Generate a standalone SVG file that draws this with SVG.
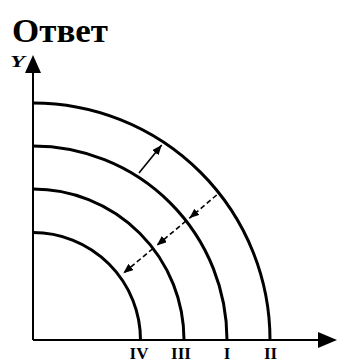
<svg xmlns="http://www.w3.org/2000/svg" width="337" height="363" viewBox="0 0 337 363">
<style>
.t{font-family:"Liberation Serif","Times New Roman",serif;font-weight:bold;fill:#000}
.arc{fill:none;stroke:#000;stroke-width:3}
.ax{stroke:#000;stroke-width:2;fill:none}
.ar{stroke:#000;stroke-width:1.6;fill:none}
.dash{stroke-dasharray:5 3}
</style>
<defs>
<marker id="ah" viewBox="0 0 10 8" refX="10" refY="4" markerWidth="10" markerHeight="8" markerUnits="userSpaceOnUse" orient="auto">
<path d="M0,0 L10,4 L0,8 z" fill="#000"/>
</marker>
</defs>
<rect width="337" height="363" fill="#fff"/>
<text class="t" x="12" y="42" font-size="34" textLength="96" lengthAdjust="spacingAndGlyphs">Ответ</text>
<g id="axes">
<line class="ax" x1="33" y1="340" x2="33" y2="70"/>
<polygon points="33,55 25,73 41,73" fill="#000"/>
<line class="ax" x1="33" y1="340" x2="320" y2="340"/>
<polygon points="337,340 318,332 318,348" fill="#000"/>
<text class="t" x="10" y="67" font-size="16" font-style="italic" textLength="15" lengthAdjust="spacingAndGlyphs">Y</text>
</g>
<g id="arc-IV"><path class="arc" d="M33,232.5 A107.5,107.5 0 0 1 140.5,340"/><text class="t" x="139" y="358.5" font-size="17" text-anchor="middle">IV</text></g>
<g id="arc-III"><path class="arc" d="M33,189 A151,151 0 0 1 184,340"/><text class="t" x="181" y="358.5" font-size="17" text-anchor="middle">III</text></g>
<g id="arc-I"><path class="arc" d="M33,146 A194,194 0 0 1 227,340"/><text class="t" x="227" y="358.5" font-size="17" text-anchor="middle">I</text></g>
<g id="arc-II"><path class="arc" d="M33,103 A237,237 0 0 1 270,340"/><text class="t" x="270.5" y="358.5" font-size="17" text-anchor="middle">II</text></g>
<g id="connectors">
<line class="ar" x1="139" y1="173" x2="161.7" y2="145" marker-end="url(#ah)"/>
<line class="ar dash" x1="216.7" y1="195" x2="189.3" y2="218.3" marker-end="url(#ah)"/>
<line class="ar dash" x1="186" y1="221" x2="156.7" y2="245.5" marker-end="url(#ah)"/>
<line class="ar dash" x1="153" y1="248.5" x2="123.3" y2="273.3" marker-end="url(#ah)"/>
</g>
</svg>
